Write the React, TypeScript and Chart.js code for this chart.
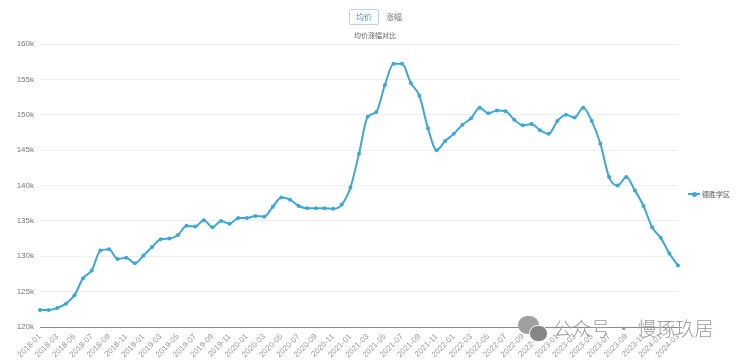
import React, { useEffect, useRef } from "react";
import { Chart, registerables } from "chart.js";

Chart.register(...registerables);

const months: string[] = [
  "2018-01","2018-02","2018-03","2018-04","2018-05","2018-06","2018-07","2018-08","2018-09","2018-10","2018-11","2018-12",
  "2019-01","2019-02","2019-03","2019-04","2019-05","2019-06","2019-07","2019-08","2019-09","2019-10","2019-11","2019-12",
  "2020-01","2020-02","2020-03","2020-04","2020-05","2020-06","2020-07","2020-08","2020-09","2020-10","2020-11","2020-12",
  "2021-01","2021-02","2021-03","2021-04","2021-05","2021-06","2021-07","2021-08","2021-09","2021-10","2021-11","2021-12",
  "2022-01","2022-02","2022-03","2022-04","2022-05","2022-06","2022-07","2022-08","2022-09","2022-10","2022-11","2022-12",
  "2023-01","2023-02","2023-03","2023-04","2023-05","2023-06","2023-07","2023-08","2023-09","2023-10","2023-11","2023-12",
  "2024-01","2024-02","2024-03",
];

// average price, in thousands (k)
const priceK: number[] = [
  122.4,122.4,122.7,123.3,124.5,126.9,128.0,130.8,131.0,129.6,
  129.8,129.0,130.1,131.3,132.4,132.5,133.0,134.3,134.2,135.1,
  134.1,135.0,134.6,135.4,135.4,135.7,135.6,137.0,138.3,138.0,
  137.1,136.8,136.8,136.8,136.7,137.3,139.7,144.5,149.7,150.4,
  154.2,157.2,157.2,154.5,152.7,148.1,145.0,146.3,147.3,148.6,
  149.5,151.0,150.2,150.6,150.5,149.3,148.5,148.7,147.8,147.3,
  149.1,150.0,149.6,151.0,149.1,145.9,141.2,140.0,141.2,139.3,
  137.1,134.1,132.6,130.4,128.7,
];

const seriesName = "德胜学区";
const yMin = 120;
const yMax = 160;
const yStep = 5;

const LINE = "#3fa7d6";

export default function App() {
  const ref = useRef<HTMLCanvasElement | null>(null);

  useEffect(() => {
    if (!ref.current) return;
    const chart = new Chart(ref.current, {
      type: "line",
      data: {
        labels: months,
        datasets: [
          {
            label: seriesName,
            data: priceK,
            borderColor: LINE,
            backgroundColor: LINE,
            borderWidth: 2,
            pointRadius: 2,
            pointBackgroundColor: LINE,
            pointBorderWidth: 0,
            tension: 0.4,
            cubicInterpolationMode: "monotone",
          },
        ],
      },
      options: {
        animation: false,
        responsive: false,
        maintainAspectRatio: false,
        layout: { padding: { left: 0, right: 62, top: 44, bottom: 0 } },
        plugins: {
          legend: { display: false },
          tooltip: { enabled: false },
        },
        scales: {
          x: {
            offset: false,
            grid: { display: false, drawTicks: false },
            border: { display: true, color: "#8a8a8a", width: 1 },
            ticks: {
              autoSkip: false,
              maxRotation: 45,
              minRotation: 45,
              padding: 5,
              color: "#999",
              font: { size: 8, family: "Arial, 'Noto Sans CJK SC'" },
              callback: (_v: any, i: number) => (i % 2 === 0 ? months[i] : ""),
            },
            afterFit: (s: any) => {
              s.height = 37;
            },
          },
          y: {
            min: yMin,
            max: yMax,
            grid: { color: "#eeeeee", drawTicks: false },
            border: { display: false },
            ticks: {
              stepSize: yStep,
              padding: 6,
              color: "#777",
              font: { size: 8, family: "Arial, 'Noto Sans CJK SC'" },
              callback: (v: any) => v + "k",
            },
            afterFit: (s: any) => {
              s.width = 40;
            },
          },
        },
      },
    });
    return () => chart.destroy();
  }, []);

  return (
    <div
      style={{
        position: "fixed",
        left: 0,
        top: 0,
        width: 740,
        height: 364,
        background: "#fff",
        fontFamily: "'Noto Sans CJK SC', Arial, sans-serif",
        overflow: "hidden",
      }}
    >
      <canvas ref={ref} width={740} height={364} style={{ position: "absolute", left: 0, top: 0 }} />
      <div
        style={{
          position: "absolute",
          left: 349,
          top: 9,
          width: 28,
          height: 14,
          border: "1px solid #b8d3e6",
          borderRadius: 2,
          fontSize: 8,
          lineHeight: "14px",
          textAlign: "center",
          color: "#4a90c2",
        }}
      >
        均价
      </div>
      <div
        style={{
          position: "absolute",
          left: 382,
          top: 10,
          width: 24,
          height: 14,
          fontSize: 8,
          lineHeight: "14px",
          textAlign: "center",
          color: "#777",
        }}
      >
        涨幅
      </div>
      <div
        style={{
          position: "absolute",
          left: 340,
          top: 30,
          width: 70,
          fontSize: 7,
          lineHeight: "10px",
          textAlign: "center",
          color: "#666",
        }}
      >
        均价涨幅对比
      </div>
      <div style={{ position: "absolute", left: 688, top: 189, display: "flex", alignItems: "center" }}>
        <div style={{ position: "relative", width: 12, height: 10 }}>
          <div style={{ position: "absolute", left: 0, top: 4, width: 12, height: 2, background: LINE }} />
          <div style={{ position: "absolute", left: 3.5, top: 2.5, width: 5, height: 5, borderRadius: 3, background: LINE }} />
        </div>
        <span style={{ fontSize: 7, color: "#555", marginLeft: 2 }}>{seriesName}</span>
      </div>
      <div style={{ position: "absolute", left: 518, top: 316, width: 32, height: 28 }}>
        <div style={{ position: "absolute", left: 0, top: 0, width: 21, height: 18, borderRadius: 11, background: "#a0a0a0" }} />
        <div style={{ position: "absolute", left: 11, top: 9, width: 17, height: 15, borderRadius: 9, background: "#858585", border: "1px solid #fff" }} />
      </div>
      <div
        style={{
          position: "absolute",
          left: 553,
          top: 316,
          fontSize: 19,
          lineHeight: "24px",
          color: "#999",
          whiteSpace: "nowrap",
          fontWeight: 300,
        }}
      >
        公众号 · 慢琢玖居
      </div>
    </div>
  );
}
